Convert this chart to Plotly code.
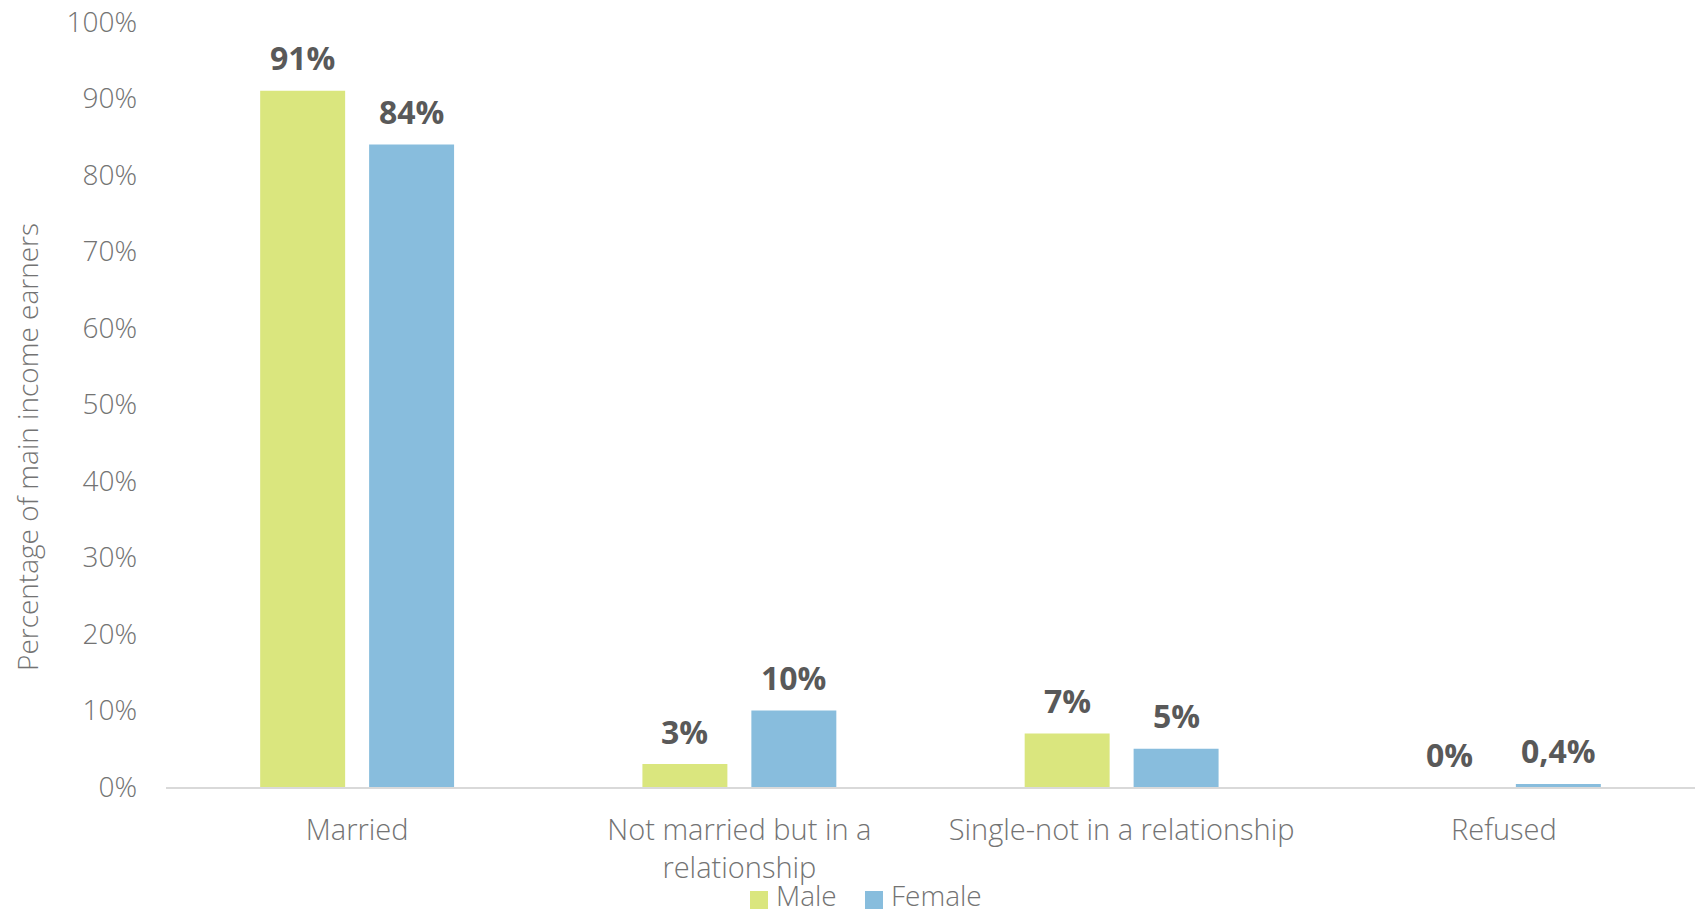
import plotly.graph_objects as go

# Marital status of main income earners, by gender
categories = ["Married", "Not married but in a<br>relationship", "Single-not in a relationship", "Refused"]
male_pct = [91, 3, 7, 0]
female_pct = [84, 10, 5, 0.4]
series_names = ["Male", "Female"]
y_ticks = [0, 10, 20, 30, 40, 50, 60, 70, 80, 90, 100]
y_tick_labels = [f"{t}%" for t in y_ticks]

MALE_COLOR = "#DAE67E"
FEMALE_COLOR = "#88BDDD"
TICK_COLOR = "#737373"
LABEL_COLOR = "#595959"
FONT = "Open Sans"

W, H = 1702, 913
M_L, M_R, M_T, M_B = 166, 7, 22, 126
BARGAP = 0.43
GROUPGAP = 0.22
PLOT_W = W - M_L - M_R
PLOT_H = H - M_T - M_B


def px_x(px):
    """Pixel column -> paper x."""
    return (px - M_L) / PLOT_W


def px_y(py):
    """Pixel row -> paper y."""
    return (H - M_B - py) / PLOT_H


def fmt_pct(v):
    if v != 0 and v < 1:
        return f"{v:.1f}".replace(".", ",") + "%"
    return f"{v:.0f}%"


fig = go.Figure()
for name, vals, color in ((series_names[0], male_pct, MALE_COLOR),
                          (series_names[1], female_pct, FEMALE_COLOR)):
    fig.add_trace(go.Bar(name=name, x=categories, y=vals, showlegend=False,
                         marker=dict(color=color, line=dict(width=0))))

# value labels above each bar, shifted sideways to sit over their bar in the group
cat_w = PLOT_W / len(categories)
slot = cat_w * (1 - BARGAP) / 2
for vals, shift in ((male_pct, -slot / 2), (female_pct, slot / 2)):
    for c, v in zip(categories, vals):
        fig.add_annotation(x=c, y=v, xref="x", yref="y", text=f"<b>{fmt_pct(v)}</b>",
                           showarrow=False, xshift=shift, yshift=33, yanchor="middle",
                           font=dict(family=FONT, size=32, color=LABEL_COLOR))

fig.add_annotation(text="Percentage of main income earners", xref="paper", yref="paper",
                   x=px_x(27), y=px_y(447),
                   xanchor="center", yanchor="middle", textangle=-90, showarrow=False,
                   font=dict(family=FONT, size=28, color=TICK_COLOR, weight=300))

# legend row below the category labels: square swatch followed by series name
legend_items = [(series_names[0], MALE_COLOR, 750), (series_names[1], FEMALE_COLOR, 865)]
SW = 18
for name, color, x0 in legend_items:
    fig.add_shape(type="rect", xref="paper", yref="paper",
                  x0=px_x(x0), x1=px_x(x0 + SW), y0=px_y(909), y1=px_y(909 - SW),
                  fillcolor=color, line=dict(width=0))
    fig.add_annotation(text=name, xref="paper", yref="paper", x=px_x(x0 + SW + 6), y=px_y(895),
                       xanchor="left", yanchor="middle", showarrow=False,
                       font=dict(family=FONT, size=28, color=TICK_COLOR, weight=300))

fig.update_layout(
    width=W, height=H,
    margin=dict(l=M_L, r=M_R, t=M_T, b=M_B, autoexpand=False),
    paper_bgcolor="white", plot_bgcolor="white",
    barmode="group", bargap=BARGAP, bargroupgap=GROUPGAP,
    font=dict(family=FONT, color=TICK_COLOR),
    showlegend=False,
    xaxis=dict(showline=True, linecolor="#D9D9D9", linewidth=2, showgrid=False,
               ticks="", tickfont=dict(family=FONT, size=29, color=TICK_COLOR, weight=300),
               ticklabelstandoff=16),
    yaxis=dict(range=[0, 100], tickvals=y_ticks, ticktext=y_tick_labels, showgrid=False,
               zeroline=False, showline=False, ticks="",
               tickfont=dict(family=FONT, size=28, color=TICK_COLOR, weight=300),
               ticklabelstandoff=28),
)

fig.write_html("out.html")
